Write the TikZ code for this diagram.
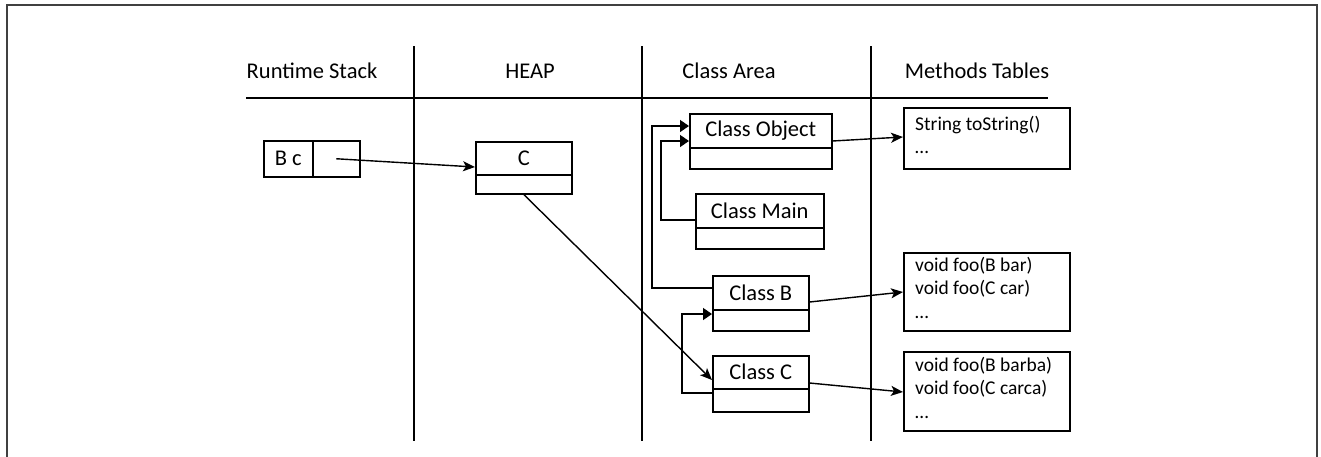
\documentclass[tikz,border=0pt]{standalone}
\usepackage{fontspec}
\setmainfont{Carlito}
\usetikzlibrary{arrows.meta,calc}
\begin{document}
\begin{tikzpicture}[x=1pt,y=-1pt,
  hdr/.style={font=\fontsize{22.5}{26}\selectfont, inner sep=0pt},
  cls/.style={draw, line width=1.5pt, anchor=north west, inner sep=0pt, font=\fontsize{22.5}{26}\selectfont},
  meth/.style={draw, line width=1.5pt, anchor=north west, inner sep=0pt},
  mtext/.style={font=\fontsize{19.5}{23.5}\selectfont, align=left, anchor=north west, inner sep=0pt},
  sep/.style={line width=2.2pt},
  ptr/.style={line width=1.4pt, -{Stealth[length=12pt,width=10pt,inset=3pt]}},
  inh/.style={line width=1.4pt, -{Triangle[length=9pt,width=12pt]}}]
\useasboundingbox (0,0) rectangle (1321,456);
% frame
\draw[line width=1.8pt, black!75] (7,458) -- (7,5) -- (1317,5) -- (1317,458);
% headers
\node[hdr] (h1) at (312,71) {Runtime Stack};
\node[hdr] (h2) at (530,71) {HEAP};
\node[hdr] (h3) at (729,71) {Class Area};
\node[hdr] (h4) at (977,71) {Methods Tables};
\draw[line width=1.5pt] (246,98) -- (1048,98);
\draw[sep] (414,46) -- (414,441);
\draw[sep] (642,46) -- (642,441);
\draw[sep] (871,46) -- (871,441);
% stack
\node[cls, minimum width=49, minimum height=36] (s1) at (263,140) {B c};
\node[cls, minimum width=47, minimum height=36] (s2) at (312,140) {};
% heap
\node[cls, minimum width=96, minimum height=33] (hc) at (475,141) {C};
\node[cls, minimum width=96, minimum height=19] (hcb) at (475,174) {};
% class area
\node[cls, minimum width=142, minimum height=34] (obj) at (689,113) {Class Object};
\node[cls, minimum width=142, minimum height=21] (objb) at (689,147) {};
\node[cls, minimum width=128, minimum height=34] (main) at (695,193) {Class Main};
\node[cls, minimum width=128, minimum height=21] (mainb) at (695,227) {};
\node[cls, minimum width=96, minimum height=34] (cb) at (712,275) {Class B};
\node[cls, minimum width=96, minimum height=21] (cbb) at (712,309) {};
\node[cls, minimum width=96, minimum height=33] (cc) at (712,355) {Class C};
\node[cls, minimum width=96, minimum height=23] (ccb) at (712,388) {};
% method tables
\node[meth, minimum width=166, minimum height=61] (m1) at (903,107) {};
\node[mtext] (t1) at (915,116) {String toString()\\…};
\node[meth, minimum width=166, minimum height=78] (m2) at (903,252) {};
\node[mtext] (t2) at (915,257) {void foo(B bar)\\void foo(C car)\\…};
\node[meth, minimum width=166, minimum height=79] (m3) at (903,351) {};
\node[mtext] (t3) at (915,357) {void foo(B barba)\\void foo(C carca)\\…};
% pointers
\draw[ptr] (s2.center) -- ($(hc.north west)+(0,26)$);
\draw[ptr] (hcb.south) -- ($(cc.north west)+(0,25)$);
\draw[ptr] ($(obj.north east)+(0,28)$) -- ($(m1.north west)+(0,30)$);
\draw[ptr] ($(cb.north east)+(0,27)$) -- ($(m2.north west)+(0,40)$);
\draw[ptr] ($(cc.north east)+(0,28)$) -- ($(m3.north west)+(0,41)$);
% inheritance
\draw[inh] ($(cb.north west)+(0,13)$) -| (652,126) -- ($(obj.north west)+(0,13)$);
\draw[inh] ($(main.north west)+(0,27)$) -| (661,141) -- ($(obj.north west)+(0,28)$);
\draw[inh] ($(ccb.north west)+(0,5)$) -| (682,314) -- ($(cbb.north west)+(0,5)$);
\end{tikzpicture}
\end{document}
